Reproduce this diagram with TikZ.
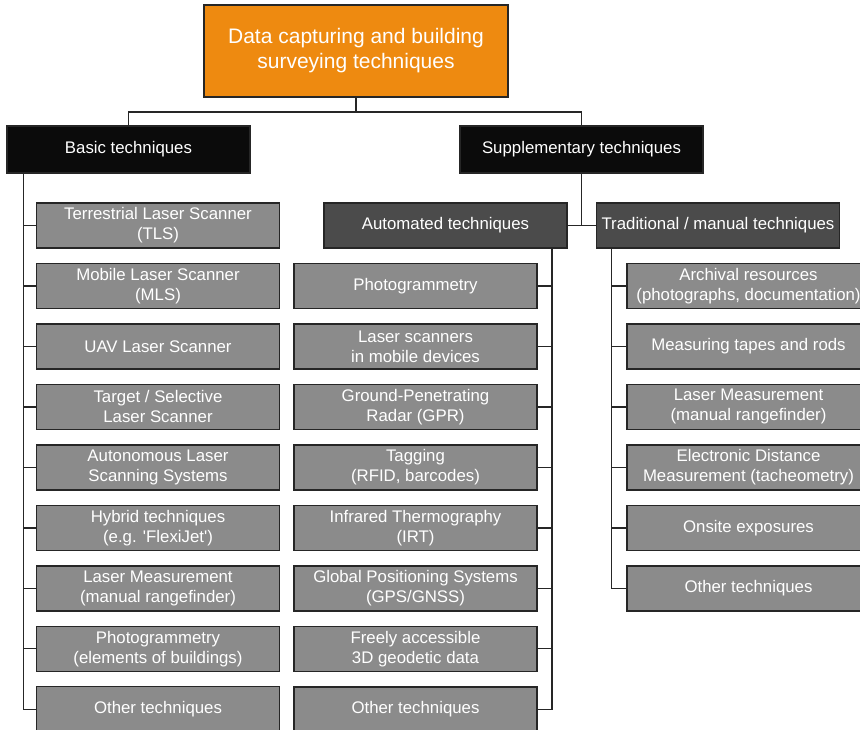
\documentclass[tikz,border=0pt]{standalone}
\usepackage{fontspec}
\setmainfont{Liberation Sans}
\usetikzlibrary{positioning,calc}
\definecolor{surorange}{HTML}{EE8A10}
\definecolor{surblack}{HTML}{0B0B0B}
\definecolor{surdark}{HTML}{4B4B4B}
\definecolor{surgrey}{HTML}{8B8B8B}
\definecolor{surline}{HTML}{262626}
\tikzset{
    box/.style={draw=surline,line width=1.1pt,text=white,align=center,inner sep=2pt,outer sep=0pt,
        minimum width=182pt,minimum height=33.75pt,font=\fontsize{12.6}{15}\selectfont},
    root/.style={box,fill=surorange,minimum width=228pt,minimum height=69pt,font=\fontsize{15.75}{18.75}\selectfont},
    main/.style={box,fill=surblack,minimum height=35.25pt},
    group/.style={box,fill=surdark},
    item/.style={box,fill=surgrey},
    link/.style={draw=surline,line width=1pt},
}

\begin{document}
\begin{tikzpicture}[x=0.75pt,y=-0.75pt,node distance=11.6pt]
    \useasboundingbox (0,0) rectangle (860,730);

    \node[root] (root) at (356,51) {Data capturing and building\\surveying techniques};
    \node[main] (basic) at (128.5,149.5) {Basic techniques};
    \node[main] (supp) at (581.5,149.5) {Supplementary techniques};
    \node[group] (auto) at (445.5,225.5) {Automated techniques};
    \node[group] (trad) at (718,225.5) {Traditional / manual techniques};

    % basic techniques
    \node[item] (tls) at (158,225.5) {Terrestrial Laser Scanner\\(TLS)};
    \node[item,below=of tls] (mls) {Mobile Laser Scanner\\(MLS)};
    \node[item,below=of mls] (uav) {UAV Laser Scanner};
    \node[item,below=of uav] (target) {Target / Selective\\Laser Scanner};
    \node[item,below=of target] (autonomous) {Autonomous Laser\\Scanning Systems};
    \node[item,below=of autonomous] (hybrid) {Hybrid techniques\\(e.g. \textquotesingle FlexiJet\textquotesingle)};
    \node[item,below=of hybrid] (rangebasic) {Laser Measurement\\(manual rangefinder)};
    \node[item,below=of rangebasic] (photobasic) {Photogrammetry\\(elements of buildings)};
    \node[item,below=of photobasic] (basicother) {Other techniques};

    % automated techniques
    \node[item] (photo) at (415.5,286) {Photogrammetry};
    \node[item,below=of photo] (mobile) {Laser scanners\\in mobile devices};
    \node[item,below=of mobile] (gpr) {Ground-Penetrating\\Radar (GPR)};
    \node[item,below=of gpr] (tag) {Tagging\\(RFID, barcodes)};
    \node[item,below=of tag] (irt) {Infrared Thermography\\(IRT)};
    \node[item,below=of irt] (gnss) {Global Positioning Systems\\(GPS/GNSS)};
    \node[item,below=of gnss] (geo) {Freely accessible\\3D geodetic data};
    \node[item,below=of geo] (autoother) {Other techniques};

    % traditional / manual techniques
    \node[item] (arch) at (748.5,286) {Archival resources\\(photographs, documentation)};
    \node[item,below=of arch] (tape) {Measuring tapes and rods};
    \node[item,below=of tape] (rangeman) {Laser Measurement\\(manual rangefinder)};
    \node[item,below=of rangeman] (edm) {Electronic Distance\\Measurement (tacheometry)};
    \node[item,below=of edm] (onsite) {Onsite exposures};
    \node[item,below=of onsite] (tradother) {Other techniques};

    \coordinate (bus) at (0,112);
    \coordinate (lspine) at ($(basic.south west)+(16,0)$);
    \coordinate (mspine) at ($(auto.south east)+(-15,0)$);
    \coordinate (rspine) at ($(trad.south west)+(15,0)$);

    \draw[link] (root.south) -- (root.south |- bus);
    \draw[link] (basic.north) |- (bus -| supp.north) -- (supp.north);
    \draw[link] (supp.south) |- (auto.east) (supp.south) |- (trad.west);

    \draw[link]
    (lspine) |- (tls.west) (lspine) |- (mls.west) (lspine) |- (uav.west)
    (lspine) |- (target.west) (lspine) |- (autonomous.west) (lspine) |- (hybrid.west)
    (lspine) |- (rangebasic.west) (lspine) |- (photobasic.west) (lspine) |- (basicother.west);
    \draw[link]
    (mspine) |- (photo.east) (mspine) |- (mobile.east) (mspine) |- (gpr.east)
    (mspine) |- (tag.east) (mspine) |- (irt.east) (mspine) |- (gnss.east)
    (mspine) |- (geo.east) (mspine) |- (autoother.east);
    \draw[link]
    (rspine) |- (arch.west) (rspine) |- (tape.west) (rspine) |- (rangeman.west)
    (rspine) |- (edm.west) (rspine) |- (onsite.west) (rspine) |- (tradother.west);
\end{tikzpicture}
\end{document}
